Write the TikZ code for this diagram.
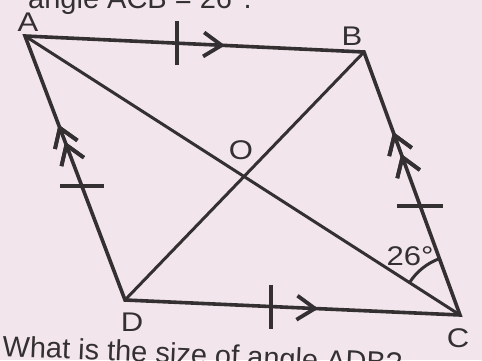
\documentclass[tikz,border=0pt]{standalone}
\usepackage{fontspec}
\setmainfont{Liberation Sans}
\usetikzlibrary{calc,decorations.markings,angles}
\definecolor{bg}{RGB}{242,230,236}
\definecolor{ink}{RGB}{52,48,50}
\begin{document}
\begin{tikzpicture}[x=1pt,y=1pt,
  edge/.style={draw=ink,line width=3.6pt,line join=miter},
  diag/.style={draw=ink,line width=3pt},
  tickmark/.style={draw=ink,line width=3.6pt},
  chev/.style={draw=ink,line width=3.8pt},
  chevat/.style={postaction={decorate},decoration={markings,
     mark=at position #1 with {\draw[chev] (-18pt,12pt) -- (0pt,0pt) -- (-18pt,-12pt);}}},
  lbl/.style={text=ink,font=\fontsize{27}{30}\selectfont,inner sep=0pt,xscale=1.15},
  body/.style={text=ink,font=\fontsize{29}{32}\selectfont,inner sep=0pt}]
\fill[bg] (0,0) rectangle (482,360);
\useasboundingbox (0,0) rectangle (482,360);
% vertices
\coordinate (A) at (25,324);
\coordinate (B) at (364,308);
\coordinate (C) at (460,45);
\coordinate (D) at (125,60);
% sides and diagonals
\draw[diag] (A) -- (C);
\draw[diag] (B) -- (D);
\draw[edge] (A) -- (B) -- (C) -- (D) -- cycle;
% ticks
\draw[tickmark] ($(A)!0.448!(B)$) ++(0,22) -- ++(0,-44);
\draw[tickmark] ($(D)!0.436!(C)$) ++(0,22) -- ++(0,-44);
\draw[tickmark] ($(A)!0.568!(D)$) ++(-22,0) -- ++(44,0);
\draw[tickmark] ($(B)!0.586!(C)$) ++(-23,0) -- ++(46,0);
% arrows
\path[chevat=0.58] (A) -- (B);
\path[chevat=0.567] (D) -- (C);
\path[chevat=0.652,chevat=0.587] (D) -- (A);
\path[chevat=0.684,chevat=0.60] (C) -- (B);
% angle
\pic[draw=ink,line width=3pt,angle radius=60pt] {angle=B--C--A};
% labels
\node[lbl] (lA) at (28,338) {A};
\node[lbl] (lB) at (352,324) {B};
\node[lbl] (lC) at (458,22) {C};
\node[lbl] (lD) at (132,38) {D};
\node[lbl] (lO) at (241,210) {O};
\node[lbl,xscale=1] (l26) at (410,104) {26°};
% surrounding text
\node[body,anchor=base east] (t1) at (252,352) {angle ACB = 26°.};
\node[body,anchor=base west,rotate=-2.5] (t2) at (2,4) {What is the size of angle ADB?};
\end{tikzpicture}
\end{document}
